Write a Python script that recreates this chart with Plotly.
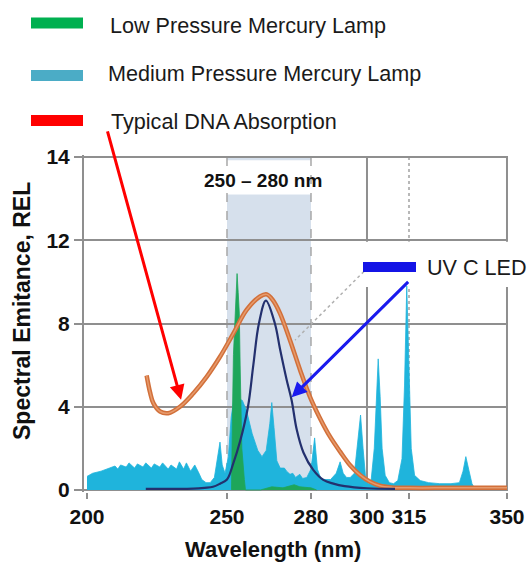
import plotly.graph_objects as go

# ---------------- data ----------------
mp_wl = [200, 202, 205, 208, 210, 211, 212, 214, 215, 217, 218, 220, 221, 223, 224, 226, 227, 229, 230, 232,
         233, 234.5, 235.5, 237, 238.5, 240, 241, 242.5, 244, 245.5, 246.5, 247.5, 248.3, 249.3, 250.5, 251.5,
         252.5, 254, 255.5, 257, 259, 261, 262.5, 264, 265.3, 266, 266.8, 267.8, 269, 270.5, 271.3, 272.5,
         273.5, 274.5, 276, 277, 278.5, 280, 281.3, 282.3, 283.5, 285, 287, 289, 290.4, 291.5, 292.7, 294,
         295.5, 296.8, 297.7, 298.6, 299.5, 300.4, 301.5, 302.6, 303.3, 304, 304.7, 305.4, 306.5, 308, 309.5,
         311, 312.5, 313.4, 314.2, 315, 315.8, 317, 319, 322, 326, 330, 333, 334.3, 335.3, 336.3, 337.5, 338.8]
mp_val = [0.65, 0.8, 0.9, 1.05, 1.15, 1.0, 1.2, 1.1, 1.3, 1.05, 1.25, 1.1, 1.3, 1.05, 1.25, 1.1, 1.3, 1.0, 1.2, 1.0,
          1.35, 1.0, 1.3, 0.9, 1.2, 0.8, 0.5, 0.35, 0.35, 0.6, 1.5, 2.3, 1.2, 0.8, 1.6, 3.5,
          4.4, 4.4, 4.3, 3.8, 2.7, 1.9, 1.6, 1.9, 3.2, 4.2, 3.0, 1.4, 1.05, 1.05, 0.9, 0.75,
          0.8, 0.6, 0.75, 0.55, 0.6, 1.0, 2.5, 1.0, 0.55, 0.5, 0.5, 0.8, 1.35, 0.8, 0.6, 0.6,
          0.8, 2.5, 3.6, 2.0, 0.6, 0.3, 0.5, 2.0, 4.5, 6.3, 4.5, 2.0, 0.7, 0.35, 0.3,
          0.45, 1.5, 5.0, 9.8, 6.0, 2.0, 0.7, 0.45, 0.35, 0.3, 0.3, 0.35, 0.9, 1.6, 1.0, 0.3, 0.0]

lp_wl = [251.6, 251.9, 252.0, 252.3, 252.9, 253.6, 254.0, 254.4, 254.7, 254.9, 255.3, 256.2, 256.6,
         262, 266, 270, 274, 276, 280, 282]
lp_val = [0, 2.0, 4.0, 6.5, 8.5, 10.4, 9.5, 8.5, 6.0, 4.0, 2.0, 0.5, 0,
          0, 0.15, 0.1, 0.25, 0.15, 0.1, 0]

led_wl = [221, 230, 238, 242, 245, 247.5, 250, 252.3, 254.6, 257.5, 259.4, 261.4, 263.9, 267.1, 268.9,
          271.3, 273.1, 274.9, 277.3, 280.8, 284.4, 288, 292, 300, 310]
led_val = [0.05, 0.05, 0.06, 0.1, 0.15, 0.3, 0.5, 1.3, 2.3, 4.0, 6.0, 8.0, 9.1, 8.0, 6.8,
           5.3, 4.3, 2.9, 1.8, 0.96, 0.48, 0.3, 0.18, 0.08, 0.05]

dna_wl = [221.3, 222.5, 223.7, 226.1, 229, 233.2, 238, 242.8, 247.5, 252.2, 257, 261.8, 264.2, 266.5,
          268.9, 272.5, 276.1, 279.6, 283.2, 286.8, 290.4, 293.9, 297.5, 301, 304.6, 309, 315, 330, 350]
dna_val = [5.5, 4.7, 4.17, 3.77, 3.69, 4.0, 4.65, 5.45, 6.4, 7.5, 8.65, 9.3, 9.4, 9.1,
           8.5, 7.2, 5.77, 4.49, 3.45, 2.56, 1.84, 1.2, 0.72, 0.4, 0.2, 0.12, 0.1, 0.1, 0.1]

x_tick_vals = [200, 250, 280, 300, 315, 350]
y_tick_vals = [0, 4, 8, 12, 16]
y_tick_text = ["0", "4", "8", "12", "14"]
band = [250, 280]
band_label = "250 – 280 nm"
legend_labels = ["Low Pressure Mercury Lamp", "Medium Pressure Mercury Lamp", "Typical DNA Absorption"]
legend_colors = ["#00b050", "#4bacc6", "#ff0000"]
led_label = "UV C LED"

# ---------------- layout geometry ----------------
W, H = 528, 562
ML, MR, MT, MB = 84, 20, 155, 70
PW = W - ML - MR
PH = H - MT - MB


def px(x):
    """window pixel x -> paper x"""
    return (x - ML) / PW


def py(y):
    """window pixel y -> paper y"""
    return (H - MB - y) / PH


GRID = "#8f8f8f"
FONT = "Arial, Liberation Sans, sans-serif"

fig = go.Figure()
fig.add_trace(go.Scatter(x=mp_wl, y=mp_val, mode="lines", fill="tozeroy",
                         line=dict(color="#1fb4dc", width=0.8), fillcolor="#1fb4dc",
                         showlegend=False, hoverinfo="skip"))
fig.add_trace(go.Scatter(x=lp_wl, y=lp_val, mode="lines", fill="tozeroy",
                         line=dict(color="#1ea65a", width=0.8), fillcolor="#1ea65a",
                         showlegend=False, hoverinfo="skip"))
fig.add_trace(go.Scatter(x=dna_wl, y=dna_val, mode="lines", line_shape="spline",
                         line=dict(color="#d2703a", width=4.5), showlegend=False, hoverinfo="skip"))
fig.add_trace(go.Scatter(x=dna_wl, y=dna_val, mode="lines", line_shape="spline",
                         line=dict(color="#e69a6c", width=1.5), showlegend=False, hoverinfo="skip"))
fig.add_trace(go.Scatter(x=led_wl, y=led_val, mode="lines", line_shape="spline",
                         line=dict(color="#23306e", width=2.2), showlegend=False, hoverinfo="skip"))

shapes = []
# shaded 250-280 band
shapes.append(dict(type="rect", xref="x", yref="y", x0=band[0], x1=band[1], y0=0, y1=16,
                   fillcolor="#d6e0ec", line=dict(width=0), layer="below"))
shapes.append(dict(type="rect", xref="x", yref="y", x0=band[0] - 0.3, x1=band[1] + 0.3, y0=14.2, y1=15.85,
                   fillcolor="white", line=dict(width=0), layer="below"))
for b in band:
    shapes.append(dict(type="line", xref="x", yref="y", x0=b, x1=b, y0=0, y1=16,
                       line=dict(color="#a8a8a8", width=1.5, dash="dash"), layer="below"))
# vertical grid lines
shapes.append(dict(type="line", xref="x", yref="y", x0=300, x1=300, y0=0, y1=16,
                   line=dict(color=GRID, width=2), layer="below"))
shapes.append(dict(type="line", xref="x", yref="y", x0=350, x1=350, y0=0, y1=16,
                   line=dict(color=GRID, width=2), layer="below"))
shapes.append(dict(type="line", xref="x", yref="y", x0=315, x1=315, y0=0, y1=16,
                   line=dict(color="#b8b8b8", width=2, dash="dot"), layer="below"))
# white box behind UV C LED label
shapes.append(dict(type="rect", xref="x", yref="y", x0=298.9, x1=350.36, y0=9.75, y1=11.93,
                   fillcolor="white", line=dict(width=0), layer="between"))
# dotted leader line
shapes.append(dict(type="line", xref="x", yref="y", x0=298.9, y0=10.5, x1=274.3, y1=7.2,
                   line=dict(color="#b0b0b0", width=1.5, dash="dot"), layer="above"))
# LED legend bar
shapes.append(dict(type="rect", xref="paper", yref="paper", x0=px(363), x1=px(416), y0=py(272), y1=py(262),
                   fillcolor="#1414e6", line=dict(width=0)))
# main legend bars
leg_rows = [(17.5, 28.5), (70, 81), (115, 126)]
for (t, b), c in zip(leg_rows, legend_colors):
    shapes.append(dict(type="rect", xref="paper", yref="paper", x0=px(31), x1=px(83), y0=py(b), y1=py(t),
                       fillcolor=c, line=dict(width=0)))

annotations = []
leg_text = [(108, 25), (106, 73), (109, 121)]
for (lx, ly), lab in zip(leg_text, legend_labels):
    annotations.append(dict(xref="paper", yref="paper", x=px(lx), y=py(ly), text=lab, showarrow=False,
                            xanchor="left", yanchor="middle", font=dict(family=FONT, size=21.6, color="#1a1a1a")))
annotations.append(dict(xref="paper", yref="paper", x=px(425), y=py(267), text=led_label, showarrow=False,
                        xanchor="left", yanchor="middle", font=dict(family=FONT, size=21.6, color="#1a1a1a")))
annotations.append(dict(xref="paper", yref="paper", x=px(263), y=py(180), text=band_label, showarrow=False,
                        xanchor="center", yanchor="middle",
                        font=dict(family=FONT, size=19, color="#111", weight="bold")))
# arrows
annotations.append(dict(xref="x", yref="y", x=233.6, y=4.33, ax=-74, ay=-270, text="", showarrow=True,
                        arrowhead=2, arrowsize=1, arrowwidth=3, arrowcolor="#ff0000"))
annotations.append(dict(xref="x", yref="y", x=273.1, y=4.45, ax=118, ay=-117, text="", showarrow=True,
                        arrowhead=2, arrowsize=1, arrowwidth=3, arrowcolor="#1a1aee"))
# axis titles
annotations.append(dict(xref="paper", yref="paper", x=px(21.5), y=py(311.5), text="Spectral Emitance, REL",
                        textangle=-90, showarrow=False, xanchor="center", yanchor="middle",
                        font=dict(family=FONT, size=23, color="#111", weight="bold")))
annotations.append(dict(xref="paper", yref="paper", x=px(272.5), y=py(549), text="Wavelength (nm)",
                        showarrow=False, xanchor="center", yanchor="middle",
                        font=dict(family=FONT, size=22, color="#111", weight="bold")))

fig.update_layout(
    width=W, height=H,
    margin=dict(l=ML, r=MR, t=MT, b=MB, autoexpand=False),
    paper_bgcolor="white", plot_bgcolor="white",
    shapes=shapes, annotations=annotations,
    showlegend=False,
    font=dict(family=FONT),
    xaxis=dict(range=[198.93, 350.36], tickvals=x_tick_vals, showgrid=False, zeroline=False,
               automargin=False,
               ticks="outside", ticklen=6, tickwidth=2, tickcolor=GRID, showline=False,
               tickfont=dict(family=FONT, size=21, color="#111", weight="bold")),
    yaxis=dict(range=[-0.1, 16.1], tickvals=y_tick_vals, ticktext=y_tick_text, showgrid=True,
               automargin=False,
               gridcolor=GRID, gridwidth=2, zeroline=False, ticks="outside", ticklen=8, tickwidth=2,
               tickcolor=GRID, showline=True, linecolor=GRID, linewidth=2,
               tickfont=dict(family=FONT, size=21, color="#111", weight="bold")),
)

# the page's default 8px body margin would push the 528x562 figure out of the window
fig.write_html("out.html",
               config={"displayModeBar": False},
               post_script="document.body.style.margin='0';document.body.style.overflow='hidden';")
